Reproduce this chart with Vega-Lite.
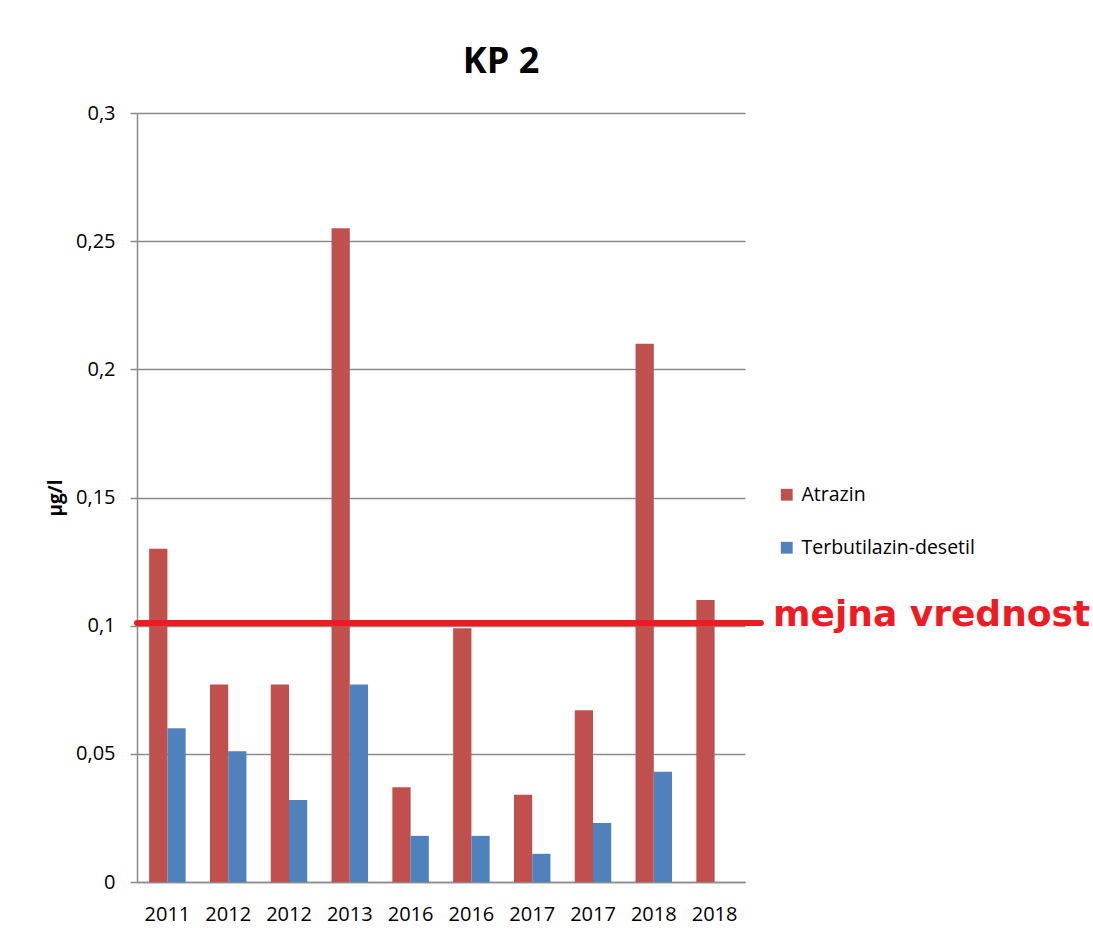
{
  "$schema": "https://vega.github.io/schema/vega-lite/v6.json",
  "width": 608,
  "height": 769,
  "autosize": "none",
  "padding": {"left": 137, "top": 113, "right": 348, "bottom": 54},
  "background": "white",
  "title": {
    "text": "KP 2",
    "font": "Open Sans",
    "fontSize": 36,
    "fontWeight": "bold",
    "color": "#000000",
    "anchor": "middle",
    "dx": 60,
    "offset": 22
  },
  "config": {
    "view": {"stroke": null},
    "font": "Open Sans"
  },
  "datasets": {
    "bars": [
      {"idx": 0, "year": "2011", "series": "Atrazin", "value": 0.13},
      {"idx": 0, "year": "2011", "series": "Terbutilazin-desetil", "value": 0.06},
      {"idx": 1, "year": "2012", "series": "Atrazin", "value": 0.077},
      {"idx": 1, "year": "2012", "series": "Terbutilazin-desetil", "value": 0.051},
      {"idx": 2, "year": "2012", "series": "Atrazin", "value": 0.077},
      {"idx": 2, "year": "2012", "series": "Terbutilazin-desetil", "value": 0.032},
      {"idx": 3, "year": "2013", "series": "Atrazin", "value": 0.255},
      {"idx": 3, "year": "2013", "series": "Terbutilazin-desetil", "value": 0.077},
      {"idx": 4, "year": "2016", "series": "Atrazin", "value": 0.037},
      {"idx": 4, "year": "2016", "series": "Terbutilazin-desetil", "value": 0.018},
      {"idx": 5, "year": "2016", "series": "Atrazin", "value": 0.099},
      {"idx": 5, "year": "2016", "series": "Terbutilazin-desetil", "value": 0.018},
      {"idx": 6, "year": "2017", "series": "Atrazin", "value": 0.034},
      {"idx": 6, "year": "2017", "series": "Terbutilazin-desetil", "value": 0.011},
      {"idx": 7, "year": "2017", "series": "Atrazin", "value": 0.067},
      {"idx": 7, "year": "2017", "series": "Terbutilazin-desetil", "value": 0.023},
      {"idx": 8, "year": "2018", "series": "Atrazin", "value": 0.21},
      {"idx": 8, "year": "2018", "series": "Terbutilazin-desetil", "value": 0.043},
      {"idx": 9, "year": "2018", "series": "Atrazin", "value": 0.11},
      {"idx": 9, "year": "2018", "series": "Terbutilazin-desetil", "value": null}
    ],
    "limit": [{"limit": 0.101, "label": "mejna vrednost"}]
  },
  "layer": [
    {
      "data": {"name": "bars"},
      "mark": {"type": "bar"},
      "encoding": {
        "x": {
          "field": "idx",
          "type": "ordinal",
          "scale": {"paddingInner": 0.4, "paddingOuter": 0.2},
          "axis": {
            "title": null,
            "labelExpr": "['2011','2012','2012','2013','2016','2016','2017','2017','2018','2018'][datum.value]",
            "labelAngle": 0,
            "labelFont": "Open Sans",
            "labelFontSize": 20,
            "labelColor": "#000000",
            "labelPadding": 22,
            "ticks": false,
            "domainColor": "#8c8c8c",
            "domainWidth": 1.5
          }
        },
        "xOffset": {"field": "series", "type": "nominal", "scale": {"paddingInner": 0, "paddingOuter": 0}},
        "y": {
          "field": "value",
          "type": "quantitative",
          "scale": {"domain": [0, 0.3]},
          "axis": {
            "title": "µg/l",
            "titleFont": "Open Sans",
            "titleFontSize": 19,
            "titleFontWeight": "bold",
            "titleColor": "#000000",
            "titlePadding": 10,
            "values": [0, 0.05, 0.1, 0.15, 0.2, 0.25, 0.3],
            "labelExpr": "replace(format(datum.value, '~g'), '.', ',')",
            "labelFont": "Open Sans",
            "labelFontSize": 20,
            "labelColor": "#000000",
            "labelPadding": 15,
            "tickSize": 7,
            "tickColor": "#8c8c8c",
            "tickWidth": 1.5,
            "domainColor": "#8c8c8c",
            "domainWidth": 1.5,
            "gridColor": "#8c8c8c",
            "gridWidth": 1.5
          }
        },
        "color": {
          "field": "series",
          "type": "nominal",
          "scale": {"domain": ["Atrazin", "Terbutilazin-desetil"], "range": ["#C0504D", "#4F81BD"]},
          "legend": {
            "title": null,
            "orient": "none",
            "legendX": 640,
            "legendY": 372,
            "symbolType": "square",
            "symbolSize": 140,
            "symbolStrokeWidth": 0,
            "labelFont": "Open Sans",
            "labelFontSize": 19.5,
            "labelColor": "#000000",
            "labelLimit": 400,
            "rowPadding": 32,
            "labelOffset": 5
          }
        }
      }
    },
    {
      "data": {"name": "limit"},
      "mark": {"type": "rule", "color": "#ED1C24", "strokeWidth": 6, "strokeCap": "round"},
      "encoding": {
        "y": {"field": "limit", "type": "quantitative"},
        "x": {"value": 0},
        "x2": {"value": {"expr": "width + 16"}}
      }
    },
    {
      "data": {"name": "limit"},
      "mark": {"type": "text", "color": "#ED1C24", "font": "DejaVu Sans", "fontWeight": "bold", "fontSize": 36, "align": "left", "baseline": "alphabetic", "dx": 28, "dy": 3},
      "encoding": {
        "y": {"field": "limit", "type": "quantitative"},
        "x": {"value": "width"},
        "text": {"field": "label"}
      }
    }
  ]
}
